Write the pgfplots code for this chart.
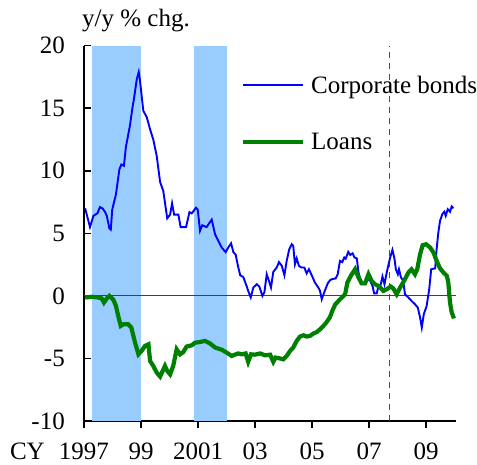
\documentclass[border=0pt]{standalone}
\usepackage{fontspec}
\setmainfont{Liberation Serif}
\usepackage{pgfplots}
\pgfplotsset{compat=1.18}
\definecolor{shade}{RGB}{153,204,255}
\definecolor{bondblue}{RGB}{0,0,255}
\definecolor{loangreen}{RGB}{0,128,0}
\newcommand{\bigf}{\fontsize{25}{30}\selectfont}
\begin{document}
\begin{tikzpicture}
\begin{axis}[
  at={(0,0)}, anchor=south west,
  scale only axis, width=372pt, height=375.3pt,
  xmin=1997, xmax=2010.05, ymin=-10, ymax=20,
  axis x line=bottom, axis y line=left,
  axis line style={-, line width=1.5pt, black},
  xtick={1997,1999,2001,2003,2005,2007,2009},
  xticklabels={1997,99,2001,03,05,07,09},
  ytick={-10,-5,0,5,10,15,20},
  tick align=inside, major tick length=7pt,
  tick style={line width=1.5pt, black},
  xtick style={yshift=-7pt},
  /pgf/number format/assume math mode=true,
  tick label style={font=\bigf},
  yticklabel style={anchor=east, inner sep=0pt, xshift=-19pt},
  xticklabel style={anchor=base, inner sep=0pt, yshift=-39pt},
  legend style={draw=none, fill=none, font=\bigf, inner sep=0pt,
    at={(axis cs:2002.5,17.6)}, anchor=north west,
    nodes={inner sep=0pt}, row sep=38pt, column sep=6pt},
  legend cell align=left,
  legend image code/.code={\draw[#1] (0pt,0pt) -- (60pt,0pt);},
  clip=false,
]
\addplot[fill=shade, draw=none, forget plot] coordinates {(1997.28,-10) (1997.28,20) (1999.0,20) (1999.0,-10)} -- cycle;
\addplot[fill=shade, draw=none, forget plot] coordinates {(2000.86,-10) (2000.86,20) (2002.02,20) (2002.02,-10)} -- cycle;
\addplot[black!75, line width=0.8pt, forget plot] coordinates {(1997,0) (2010.05,0)};
\addplot[black!70, line width=1pt, dash pattern=on 6pt off 5pt, forget plot] coordinates {(2007.71,-10) (2007.71,20)};
\addplot[bondblue, line width=1.9pt] coordinates {
(1997.04,7.0) (1997.12,6.3) (1997.21,5.5) (1997.33,6.4) (1997.47,6.6) (1997.56,7.1) (1997.65,7.0) (1997.74,6.7) (1997.80,6.4) (1997.89,5.4) (1997.94,5.3) (1997.99,6.9)
(1998.12,8.1) (1998.24,10.1) (1998.31,10.5) (1998.40,10.4) (1998.47,11.9) (1998.61,13.6) (1998.71,15.2) (1998.75,15.7) (1998.85,17.3) (1998.92,17.9) (1998.96,17.3)
(1999.08,14.8) (1999.20,14.3) (1999.32,13.3) (1999.43,12.5) (1999.55,11.2) (1999.67,9.1) (1999.78,8.4) (1999.92,6.2)
(2000.02,6.5) (2000.09,7.4) (2000.16,6.5) (2000.31,6.5) (2000.39,5.5) (2000.58,5.5) (2000.70,6.7) (2000.78,6.6) (2000.93,7.05) (2000.99,6.9)
(2001.07,5.2) (2001.15,5.65) (2001.30,5.5) (2001.48,6.1) (2001.60,4.9) (2001.71,4.4) (2001.83,3.87) (2001.97,3.5)
(2002.06,3.87) (2002.16,4.2) (2002.24,3.5) (2002.32,3.3) (2002.41,2.3) (2002.48,1.65) (2002.59,1.5) (2002.71,0.75) (2002.76,0.4) (2002.85,-0.13) (2002.94,0.67)
(2003.06,0.93) (2003.15,0.75) (2003.26,0.0) (2003.33,0.3) (2003.41,1.73) (2003.49,1.2) (2003.56,0.67) (2003.64,1.92) (2003.76,2.27) (2003.84,2.7) (2003.94,2.4)
(2004.03,1.65) (2004.11,2.8) (2004.20,3.73) (2004.29,4.13) (2004.34,4.0) (2004.40,2.53) (2004.46,3.0) (2004.54,2.4) (2004.63,2.27) (2004.73,2.27) (2004.81,1.8) (2004.89,2.13) (2004.99,1.65)
(2005.10,1.07) (2005.22,0.67) (2005.28,0.4) (2005.34,-0.27) (2005.43,0.3) (2005.55,1.0) (2005.63,1.25) (2005.69,1.33) (2005.83,1.4) (2005.90,1.73) (2005.98,2.8)
(2006.06,2.7) (2006.13,3.07) (2006.18,2.97) (2006.27,3.52) (2006.34,3.27) (2006.42,3.4) (2006.49,3.07) (2006.57,3.0) (2006.63,1.87) (2006.68,1.47) (2006.77,0.93) (2006.86,0.93) (2006.95,1.33)
(2007.04,1.2) (2007.12,0.8) (2007.18,0.2) (2007.27,0.2) (2007.33,0.8) (2007.39,0.73) (2007.47,1.55) (2007.54,0.93) (2007.62,1.87) (2007.74,3.07) (2007.82,3.68) (2007.89,3.0) (2007.94,2.13)
(2008.01,1.73) (2008.05,2.13) (2008.12,1.47) (2008.20,1.2) (2008.26,0.13) (2008.38,-0.13) (2008.49,-0.4) (2008.61,-0.67) (2008.71,-0.93) (2008.79,-1.73) (2008.85,-2.53) (2008.92,-1.47)
(2009.02,-0.8) (2009.11,0.53) (2009.18,2.13) (2009.32,2.2) (2009.37,3.73) (2009.43,5.07) (2009.49,6.0) (2009.57,6.53) (2009.64,6.73) (2009.69,6.4) (2009.76,6.93) (2009.84,6.73) (2009.90,7.15) (2009.96,7.0)
};
\addlegendentry{Corporate bonds}
\addplot[loangreen, line width=4.2pt] coordinates {
(1997.04,-0.13) (1997.27,-0.07) (1997.50,-0.13) (1997.62,-0.2) (1997.70,-0.53) (1997.80,-0.2) (1997.89,0.0)
(1998.03,-0.3) (1998.12,-0.8) (1998.20,-1.6) (1998.29,-2.4) (1998.38,-2.27) (1998.55,-2.27) (1998.66,-2.53) (1998.79,-3.73) (1998.91,-4.67)
(1999.02,-4.4) (1999.14,-4.0) (1999.26,-3.87) (1999.32,-5.2) (1999.43,-5.6) (1999.55,-6.13) (1999.67,-6.45) (1999.76,-6.0) (1999.84,-5.6) (1999.92,-6.0)
(2000.02,-6.27) (2000.13,-5.6) (2000.25,-4.27) (2000.37,-4.67) (2000.48,-4.5) (2000.60,-4.05) (2000.78,-3.95) (2000.89,-3.75)
(2001.07,-3.68) (2001.25,-3.6) (2001.42,-3.8) (2001.60,-4.13) (2001.83,-4.3)
(2002.00,-4.53) (2002.18,-4.8) (2002.29,-4.7) (2002.41,-4.6) (2002.53,-4.67) (2002.67,-4.6) (2002.76,-5.27) (2002.86,-4.67)
(2003.00,-4.7) (2003.18,-4.6) (2003.35,-4.75) (2003.53,-4.7) (2003.64,-5.27) (2003.72,-4.93) (2003.88,-5.0) (2003.99,-5.07)
(2004.11,-4.8) (2004.23,-4.4) (2004.34,-4.13) (2004.46,-3.6) (2004.58,-3.25) (2004.70,-3.15) (2004.81,-3.25) (2004.93,-3.2)
(2005.05,-3.0) (2005.16,-2.9) (2005.28,-2.67) (2005.40,-2.4) (2005.51,-2.1) (2005.63,-1.7) (2005.71,-1.2) (2005.81,-0.7) (2005.98,-0.27)
(2006.16,0.13) (2006.24,1.07) (2006.36,1.6) (2006.51,2.13) (2006.63,1.47) (2006.74,1.0) (2006.86,1.0) (2006.98,1.73)
(2007.09,1.2) (2007.21,0.93) (2007.36,0.75) (2007.50,0.4) (2007.62,0.53) (2007.76,0.75) (2007.85,0.6) (2007.97,0.13)
(2008.09,0.67) (2008.23,1.2) (2008.38,1.87) (2008.49,2.13) (2008.61,1.73) (2008.69,2.13) (2008.79,3.33) (2008.88,4.05)
(2009.00,4.13) (2009.14,3.87) (2009.26,3.47) (2009.37,2.8) (2009.49,2.2) (2009.61,1.87) (2009.73,1.6) (2009.78,1.07) (2009.84,-0.53) (2009.90,-1.33) (2009.98,-1.8)
};
\addlegendentry{Loans}
\end{axis}
\node[anchor=base west, inner sep=0pt, font=\bigf] at (-2pt,394pt) {y/y \% chg.};
\node[anchor=base east, inner sep=0pt, font=\bigf] at (-39pt,-39pt) {CY};
\pgfresetboundingbox
\path (-84pt,-44pt) rectangle (393pt,421pt);
\end{tikzpicture}
\end{document}
